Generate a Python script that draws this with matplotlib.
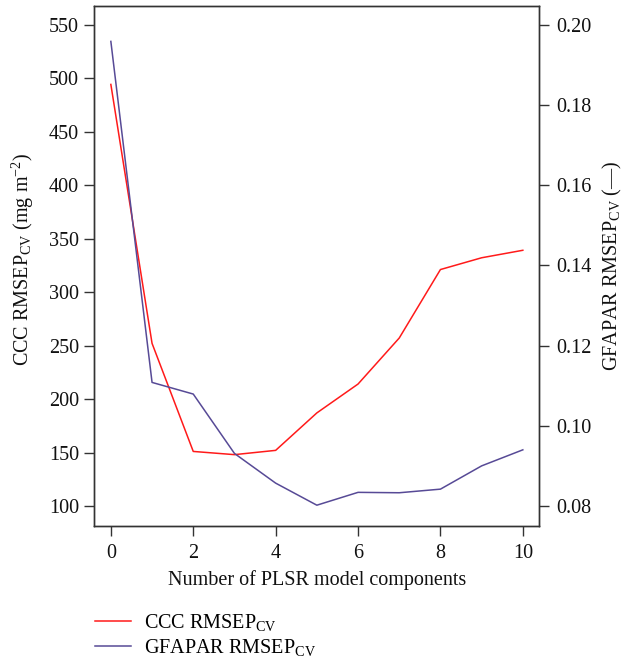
import matplotlib
matplotlib.use("Agg")
import matplotlib.pyplot as plt
from matplotlib.lines import Line2D

plt.rcParams['font.family'] = ['Liberation Serif', 'DejaVu Serif']
plt.rcParams['mathtext.fontset'] = 'custom'
plt.rcParams['mathtext.rm'] = 'Liberation Serif'
plt.rcParams['mathtext.it'] = 'Liberation Serif:italic'
plt.rcParams['mathtext.bf'] = 'Liberation Serif:bold'

components = [0, 1, 2, 3, 4, 5, 6, 7, 8, 9, 10]
ccc_rmsep = [494, 252, 151, 148, 152, 187, 214, 257, 321, 332, 339]
gfapar_rmsep = [0.1958, 0.1108, 0.1079, 0.0931, 0.0857, 0.0802, 0.0834, 0.0833, 0.0842, 0.0900, 0.0940]
left_ticks = [100, 150, 200, 250, 300, 350, 400, 450, 500, 550]
right_ticks = [0.08, 0.10, 0.12, 0.14, 0.16, 0.18, 0.20]
x_ticks = [0, 2, 4, 6, 8, 10]

red = '#FF1A1A'
blue = '#574A96'
spine_col = '#333333'
fs = 14.5

fig = plt.figure(figsize=(6.25, 6.61), dpi=100)
ax = fig.add_axes([0.151, 0.2047, 0.7119, 0.7867])
ax2 = ax.twinx()

ax.plot(components, ccc_rmsep, color=red, lw=1.1)
ax2.plot(components, gfapar_rmsep, color=blue, lw=1.1)

ax.set_xlim(-0.4, 10.4)
ax.set_ylim(81.6, 567.6)
ax2.set_ylim(0.07509, 0.2047)

ax.set_xticks(x_ticks)
ax.set_yticks(left_ticks)
ax2.set_yticks(right_ticks)
ax2.set_yticklabels([f'{t:.2f}' for t in right_ticks])

for a in (ax, ax2):
    for s in a.spines.values():
        s.set_color(spine_col)
        s.set_linewidth(1.0)
ax.tick_params(axis='both', direction='out', length=7, width=1.0, color=spine_col,
               labelsize=fs, labelcolor='#111111')
ax.tick_params(axis='x', pad=6.5)
ax.tick_params(axis='y', pad=4)
ax2.tick_params(axis='y', direction='out', length=7, width=1.0, color=spine_col,
                labelsize=fs, labelcolor='#111111', pad=5.5)

ax.set_xlabel('Number of PLSR model components', fontsize=fs, color='#111111', labelpad=5)
ax.set_ylabel(r'CCC RMSEP$_{\mathrm{CV}}$ (mg m$^{-2}$)', fontsize=fs, color='#111111')
ax2.set_ylabel(r'GFAPAR RMSEP$_{\mathrm{CV}}$ (—)', fontsize=fs, color='#111111')
ax.yaxis.set_label_coords(-0.132, 0.512)
ax2.yaxis.set_label_coords(1.138, 0.50)

handles = [Line2D([], [], color=red, lw=1.1), Line2D([], [], color=blue, lw=1.1)]
labels = [r'CCC RMSEP$_{\mathrm{CV}}$', r'GFAPAR RMSEP$_{\mathrm{CV}}$']
fig.legend(handles, labels, loc='upper left', bbox_to_anchor=(0.1526, 0.074),
           frameon=False, fontsize=fs, handlelength=1.75, handletextpad=0.65,
           labelspacing=0.2, borderpad=0, borderaxespad=0)

fig.savefig('out.png', dpi=100)
